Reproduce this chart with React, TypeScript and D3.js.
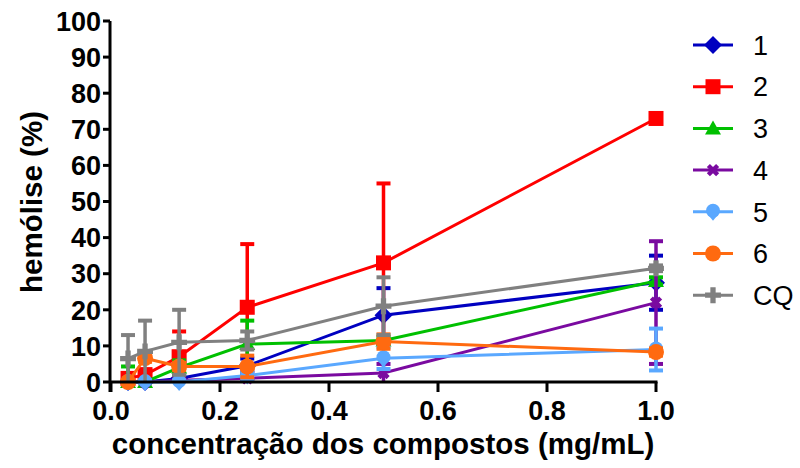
import React from "react";
import * as d3 from "d3";

// concentrations (mg/mL)
const conc = [0.03125, 0.0625, 0.125, 0.25, 0.5, 1];

const names = ["1", "2", "3", "4", "5", "6", "CQ"];
const colors = ["#0000C0", "#FF0000", "#00C000", "#7A0AA0", "#5AA8FF", "#FF6A10", "#808080"];

// mean hemolysis (%)
const mean1 = [0, 0, 1, 4.5, 18.5, 27.5];
const mean2 = [1, 2, 7, 20.7, 33, 73];
const mean3 = [0, 0, 4, 10.5, 11.5, 28];
const mean4 = [0, 0, 0.5, 1, 2.5, 22];
const mean5 = [0, 0, 0, 1.8, 6.6, 9];
const mean6 = [0, 6.6, 4.3, 4.3, 11.2, 8.3];
const meanCQ = [6.5, 8.5, 11, 11.5, 21, 31.5];

// standard deviations
const sd1 = [0.5, 0.5, 1, 2, 7.5, 7.5];
const sd2 = [1.2, 1.5, 7, 17.5, 22, 0];
const sd3 = [4.3, 0.5, 2, 6.5, 1, 1];
const sd4 = [0.3, 0.3, 0.5, 0.5, 2.5, 17];
const sd5 = [0.5, 0.5, 0.5, 1, 3, 5.8];
const sd6 = [0.5, 1, 1, 3, 2, 1];
const sdCQ = [6.5, 8.5, 9, 2.5, 8, 0.8];

const means = [mean1, mean2, mean3, mean4, mean5, mean6, meanCQ];
const sds = [sd1, sd2, sd3, sd4, sd5, sd6, sdCQ];

const xTicks = [0, 0.2, 0.4, 0.6, 0.8, 1.0];
const yTicks = [0, 10, 20, 30, 40, 50, 60, 70, 80, 90, 100];

const font = "Liberation Sans, Arial, sans-serif";

function Marker({ i, x, y }: { i: number; x: number; y: number }) {
  const c = colors[i];
  const t = `translate(${x},${y})`;
  if (i === 0) return <path transform={t} d="M0,-9L9,0L0,9L-9,0Z" fill={c} />;
  if (i === 1) return <rect x={x - 7.5} y={y - 7.5} width={15} height={15} fill={c} />;
  if (i === 2) return <path transform={t} d="M0,-8L8,6L-8,6Z" fill={c} />;
  if (i === 3)
    return <path transform={`${t} rotate(45)`} d={d3.symbol(d3.symbolCross).size(95)()!} fill={c} />;
  if (i === 4)
    return (
      <g transform={t} fill={c}>
        <circle r={7} cy={-1} />
        <path d="M-6.5,1L6.5,1L0,9Z" />
      </g>
    );
  if (i === 5) return <circle cx={x} cy={y} r={8} fill={c} />;
  return <path transform={t} d={d3.symbol(d3.symbolCross).size(140)()!} fill={c} />;
}

export default function App() {
  const x = d3.scaleLinear().domain([0, 1]).range([111, 656]);
  const y = d3.scaleLinear().domain([0, 100]).range([382, 21]);
  const line = d3
    .line<number>()
    .x((_, k) => x(conc[k]))
    .y((d) => y(d));

  return (
    <svg
      width={800}
      height={468}
      style={{ position: "absolute", left: 0, top: 0, background: "#fff" }}
      fontFamily={font}
    >
      {/* series */}
      {means.map((m, i) => (
        <g key={names[i]}>
          {m.map((v, k) => {
            const sd = sds[i][k];
            if (sd <= 0) return null;
            const px = x(conc[k]);
            const lo = y(Math.max(0, v - sd));
            const hi = y(v + sd);
            return (
              <g key={k} stroke={colors[i]}>
                <line x1={px} x2={px} y1={hi} y2={lo} strokeWidth={3.5} />
                <line x1={px - 7} x2={px + 7} y1={hi} y2={hi} strokeWidth={4} />
                {v - sd > 0 && <line x1={px - 7} x2={px + 7} y1={lo} y2={lo} strokeWidth={4} />}
              </g>
            );
          })}
          <path d={line(m)!} fill="none" stroke={colors[i]} strokeWidth={3} />
          {m.map((v, k) => (
            <Marker key={k} i={i} x={x(conc[k])} y={y(v)} />
          ))}
        </g>
      ))}

      {/* y axis */}
      <line x1={110} x2={110} y1={y(100)} y2={392} stroke="#000" strokeWidth={3} />
      {yTicks.map((t) => (
        <g key={t}>
          <line x1={103} x2={110} y1={y(t)} y2={y(t)} stroke="#000" strokeWidth={3} />
          <text x={101} y={y(t)} dy="0.36em" textAnchor="end" fontSize={27} fontWeight="bold">
            {t}
          </text>
        </g>
      ))}

      {/* x axis */}
      <line x1={110} x2={x(1) + 1.5} y1={382} y2={382} stroke="#000" strokeWidth={3} />
      {xTicks.map((t) => (
        <g key={t}>
          <line x1={x(t)} x2={x(t)} y1={382} y2={392} stroke="#000" strokeWidth={3} />
          <text x={x(t)} y={420} textAnchor="middle" fontSize={27} fontWeight="bold">
            {t.toFixed(1)}
          </text>
        </g>
      ))}

      {/* titles */}
      <text x={383} y={454} textAnchor="middle" fontSize={29.5} fontWeight="bold">
        concentração dos compostos (mg/mL)
      </text>
      <text
        transform="translate(42,202) rotate(-90)"
        textAnchor="middle"
        fontSize={29.5}
        fontWeight="bold"
      >
        hemólise (%)
      </text>

      {/* legend */}
      {names.map((n, i) => {
        const ly = 45 + i * 41.7;
        return (
          <g key={n}>
            <line x1={693} x2={733} y1={ly} y2={ly} stroke={colors[i]} strokeWidth={3} />
            <Marker i={i} x={713} y={ly} />
            <text x={753} y={ly} dy="0.36em" fontSize={27}>
              {n}
            </text>
          </g>
        );
      })}
    </svg>
  );
}
